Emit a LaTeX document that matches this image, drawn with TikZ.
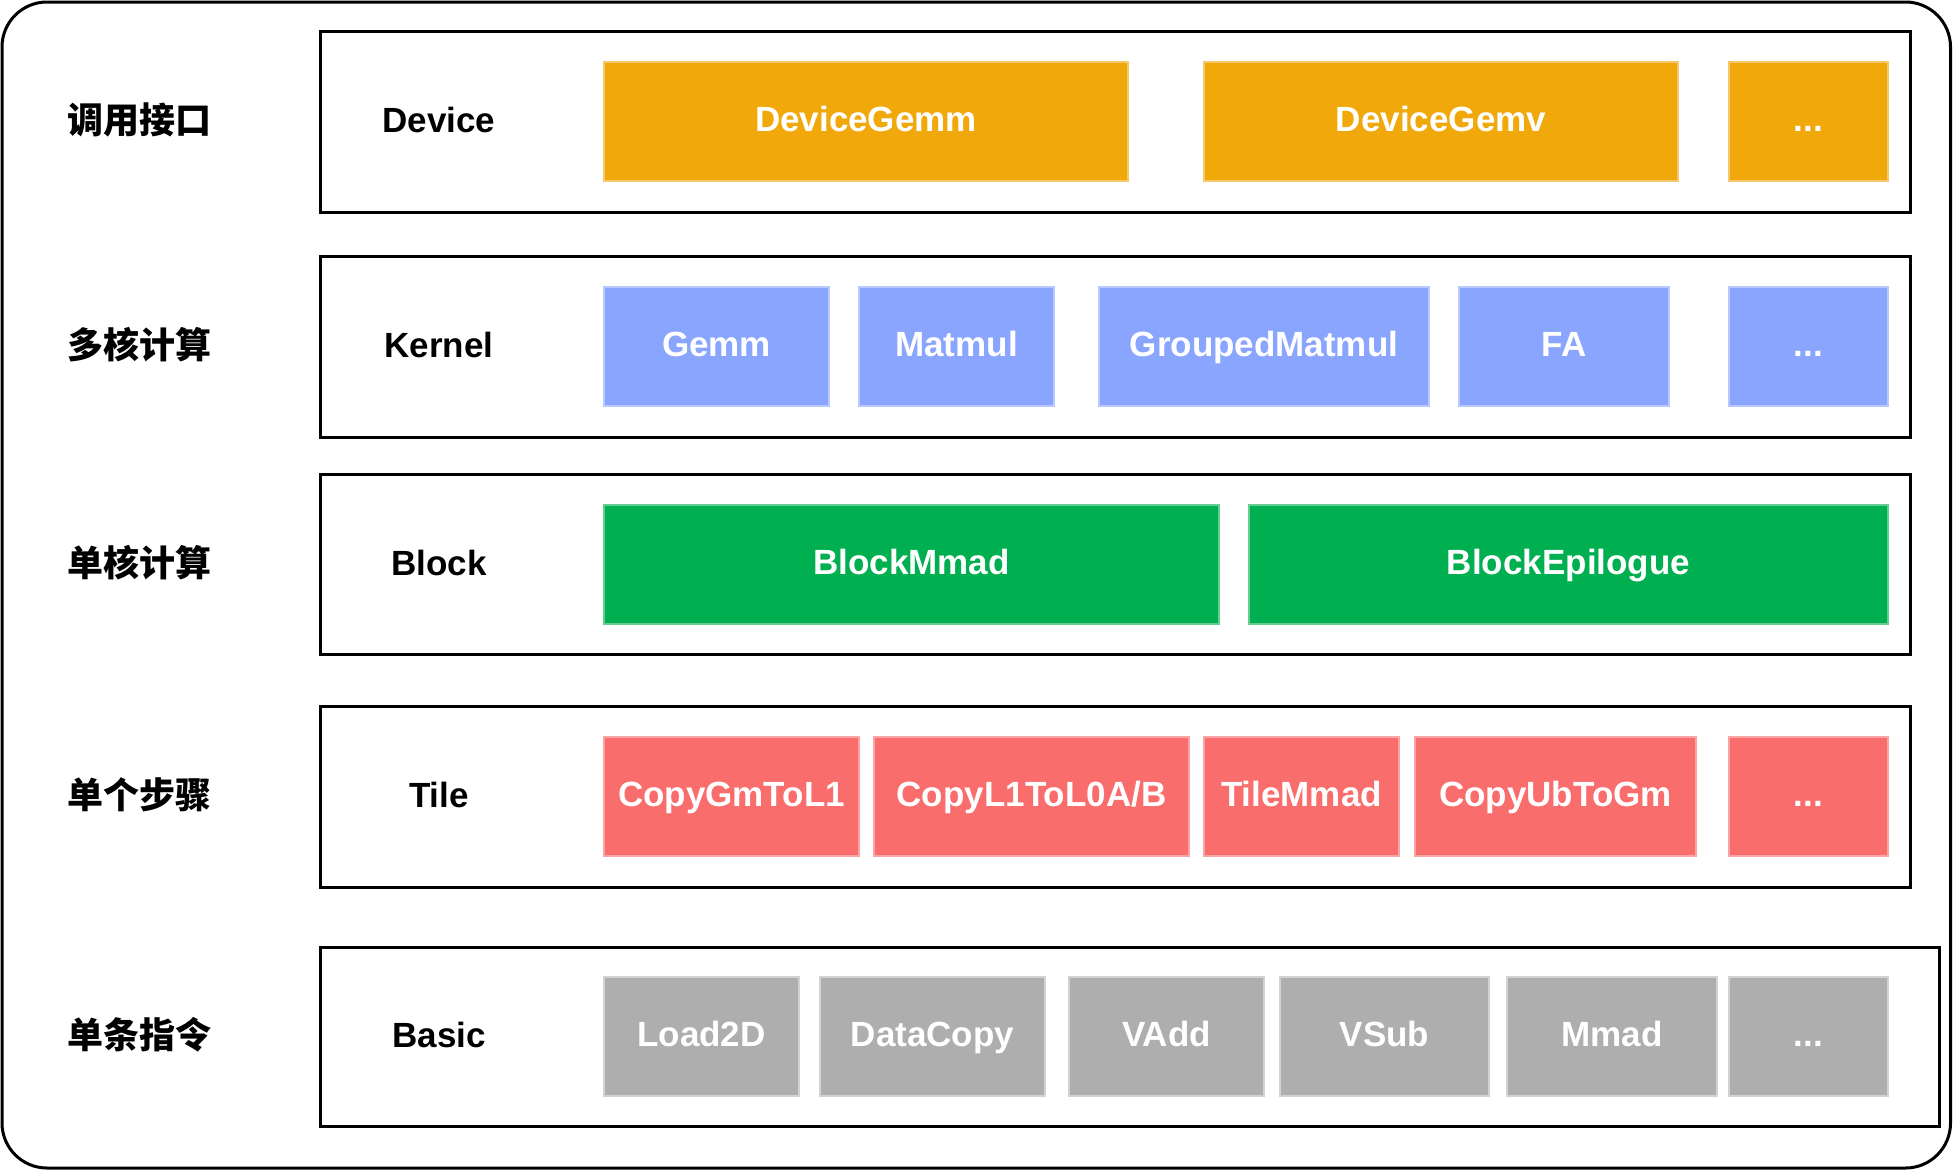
\documentclass[tikz,border=0pt]{standalone}
\usepackage{fontspec}
\setmainfont{Liberation Sans}
\newfontfamily\cjk{Noto Sans CJK SC}
\definecolor{cOrange}{RGB}{240,168,11}
\definecolor{cOrangeE}{RGB}{246,200,110}
\definecolor{cBlue}{RGB}{138,165,254}
\definecolor{cBlueE}{RGB}{184,200,254}
\definecolor{cGreen}{RGB}{0,175,80}
\definecolor{cGreenE}{RGB}{100,205,145}
\definecolor{cRed}{RGB}{249,109,109}
\definecolor{cRedE}{RGB}{250,165,165}
\definecolor{cGray}{RGB}{174,174,174}
\definecolor{cGrayE}{RGB}{210,210,210}
\tikzset{
  fs/.style={font=\fontsize{35}{42}\selectfont\bfseries, text height=25pt, text depth=0pt},
  rowbox/.style={draw=black, line width=3pt, fill=white, inner sep=0pt, outer sep=0pt},
  itembox/.style={inner sep=0pt, outer sep=0pt, line width=1.2pt, text=white, fs, text depth=5pt},
  orangebox/.style={itembox, fill=cOrange, draw=cOrangeE},
  bluebox/.style={itembox, fill=cBlue, draw=cBlueE},
  greenbox/.style={itembox, fill=cGreen, draw=cGreenE},
  redbox/.style={itembox, fill=cRed, draw=cRedE},
  graybox/.style={itembox, fill=cGray, draw=cGrayE},
  layername/.style={text=black, fs},
  cnlabel/.style={text=black, font=\fontsize{36}{42}\selectfont\cjk\bfseries},
}
% #1 name, #2 style, #3 x1, #4 x2, #5 y1, #6 y2, #7 text
\newcommand\mybox[7]{%
  \node[#2, minimum width={(#4-#3)*1pt}, minimum height={(#6-#5)*1pt}]
    (#1) at ({(#3+#4)/2},{(#5+#6)/2}) {#7};}
\begin{document}
\begin{tikzpicture}[x=1pt, y=-1pt]
\useasboundingbox (0,0) rectangle (1953,1170);
\draw[line width=3pt, rounded corners=45pt] (2,2) rectangle (1950.5,1168);

% rows
\mybox{r1}{rowbox}{320}{1910}{31}{212}{}
\mybox{r2}{rowbox}{320}{1910}{256}{437}{}
\mybox{r3}{rowbox}{320}{1910}{474}{654}{}
\mybox{r4}{rowbox}{320}{1910}{706}{887}{}
\mybox{r5}{rowbox}{320}{1939}{947}{1126}{}

% chinese labels
\node[cnlabel] (c1) at (139.5,120) {调用接口};
\node[cnlabel] (c2) at (139.5,345) {多核计算};
\node[cnlabel] (c3) at (139.5,563) {单核计算};
\node[cnlabel] (c4) at (139.5,795) {单个步骤};
\node[cnlabel] (c5) at (139.5,1035) {单条指令};

% layer names
\node[layername] (l1) at (439,120) {Device};
\node[layername] (l2) at (439,345) {Kernel};
\node[layername] (l3) at (439,563) {Block};
\node[layername] (l4) at (439,795) {Tile};
\node[layername] (l5) at (439,1035) {Basic};

% row 1
\mybox{a1}{orangebox}{604}{1128}{62}{181}{DeviceGemm}
\mybox{a2}{orangebox}{1204}{1678}{62}{181}{DeviceGemv}
\mybox{a3}{orangebox}{1729}{1888}{62}{181}{{.}{.}{.}}
% row 2
\mybox{b1}{bluebox}{604}{829}{287}{406}{Gemm}
\mybox{b2}{bluebox}{859}{1054}{287}{406}{Matmul}
\mybox{b3}{bluebox}{1099}{1429}{287}{406}{GroupedMatmul}
\mybox{b4}{bluebox}{1459}{1669}{287}{406}{FA}
\mybox{b5}{bluebox}{1729}{1888}{287}{406}{{.}{.}{.}}
% row 3
\mybox{g1}{greenbox}{604}{1219}{505}{624}{BlockMmad}
\mybox{g2}{greenbox}{1249}{1888}{505}{624}{BlockEpilogue}
% row 4
\mybox{d1}{redbox}{604}{859}{737}{856}{CopyGmToL1}
\mybox{d2}{redbox}{874}{1189}{737}{856}{CopyL1ToL0A/B}
\mybox{d3}{redbox}{1204}{1399}{737}{856}{TileMmad}
\mybox{d4}{redbox}{1415}{1696}{737}{856}{CopyUbToGm}
\mybox{d5}{redbox}{1729}{1888}{737}{856}{{.}{.}{.}}
% row 5
\mybox{e1}{graybox}{604}{799}{977}{1096}{Load2D}
\mybox{e2}{graybox}{820}{1045}{977}{1096}{DataCopy}
\mybox{e3}{graybox}{1069}{1264}{977}{1096}{VAdd}
\mybox{e4}{graybox}{1280}{1489}{977}{1096}{VSub}
\mybox{e5}{graybox}{1507}{1717}{977}{1096}{Mmad}
\mybox{e6}{graybox}{1729}{1888}{977}{1096}{{.}{.}{.}}
\end{tikzpicture}
\end{document}
